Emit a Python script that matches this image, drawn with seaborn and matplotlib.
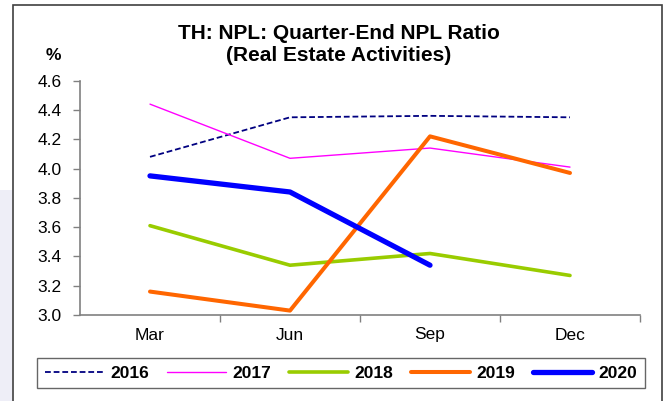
import matplotlib
matplotlib.use("Agg")
import matplotlib.pyplot as plt
from matplotlib.patches import Rectangle
import seaborn as sns
import pandas as pd

# Quarter-end NPL ratio, real estate activities (%)
quarters = ["Mar", "Jun", "Sep", "Dec"]
npl_2016 = [4.08, 4.35, 4.36, 4.35]
npl_2017 = [4.44, 4.07, 4.14, 4.01]
npl_2018 = [3.61, 3.34, 3.42, 3.27]
npl_2019 = [3.16, 3.03, 4.22, 3.97]
npl_2020 = [3.95, 3.84, 3.34]
y_ticks = [3.0, 3.2, 3.4, 3.6, 3.8, 4.0, 4.2, 4.4, 4.6]

series = [
    ("2016", npl_2016, "#000080", 1.3, (0, (3.2, 1.6))),
    ("2017", npl_2017, "#FF00FF", 1.0, "-"),
    ("2018", npl_2018, "#99CC00", 2.6, "-"),
    ("2019", npl_2019, "#FF6600", 2.9, "-"),
    ("2020", npl_2020, "#0000FF", 3.8, "-"),
]

sns.set_theme(style="white")
plt.rcParams["font.family"] = ["Liberation Sans", "DejaVu Sans"]
plt.rcParams["text.color"] = "black"

fig = plt.figure(figsize=(6.69, 4.01), dpi=100)
W, H = 669, 401

# faint backdrop at the left edge and the outer frame
fig.patches.append(Rectangle((0, 0), 12 / W, 1 - 190 / H, transform=fig.transFigure,
                             facecolor="#eeeef7", edgecolor="none", zorder=-3))
fig.patches.append(Rectangle((13 / W, -0.05), (662 - 13) / W, 1.05 - 5 / H,
                             transform=fig.transFigure, facecolor="white",
                             edgecolor="#404040", linewidth=1.2, zorder=-2))

ax = fig.add_axes([80 / W, 1 - 315 / H, (640 - 80) / W, (315 - 80.7) / H])
ax.set_facecolor("none")

for name, vals, color, lw, ls in series:
    df = pd.DataFrame({"q": list(range(len(vals))), "v": vals})
    sns.lineplot(data=df, x="q", y="v", ax=ax, color=color, linewidth=lw,
                 linestyle=ls, label=name, solid_capstyle="round",
                 dash_capstyle="butt")

ax.set_xlim(-0.5, 3.5)
ax.set_ylim(3.0, 4.6)
ax.set_yticks(y_ticks)
ax.set_yticklabels([f"{t:.1f}" for t in y_ticks])
ax.set_xticks(range(len(quarters)))
ax.set_xticklabels(quarters)
ax.set_xticks([0.5, 1.5, 2.5, 3.5], minor=True)
ax.set_xlabel("")
ax.set_ylabel("")

for side in ("top", "right"):
    ax.spines[side].set_visible(False)
for side in ("left", "bottom"):
    ax.spines[side].set_color("#808080")
    ax.spines[side].set_linewidth(1.2)

ax.tick_params(axis="y", which="major", direction="out", length=5, width=1,
               color="#808080", pad=8, labelsize=12.5, labelcolor="black", left=True)
ax.tick_params(axis="x", which="major", length=0, pad=9, labelsize=12.5,
               labelcolor="black", bottom=True)
ax.tick_params(axis="x", which="minor", direction="out", length=5, width=1,
               color="#808080", bottom=True)

fig.text(339 / W, 1 - 24 / H, "TH: NPL: Quarter-End NPL Ratio\n(Real Estate Activities)",
         ha="center", va="top", fontsize=15, fontweight="bold", linespacing=1.22)
fig.text(53 / W, 1 - 55 / H, "%", ha="center", va="center", fontsize=12.5,
         fontweight="bold")

handles, labels = ax.get_legend_handles_labels()
if ax.legend_:
    ax.legend_.remove()
leg = fig.legend(handles, labels, loc="center",
                 bbox_to_anchor=((34 + 648) / 2 / W, 1 - 373 / H),
                 ncol=5, frameon=True, fancybox=False, handlelength=3.4,
                 handletextpad=0.35, columnspacing=1.05, borderpad=0.45,
                 prop={"weight": "bold", "size": 12.5})
leg.get_frame().set_edgecolor("#404040")
leg.get_frame().set_linewidth(1.0)

fig.savefig("out.png", dpi=100)
